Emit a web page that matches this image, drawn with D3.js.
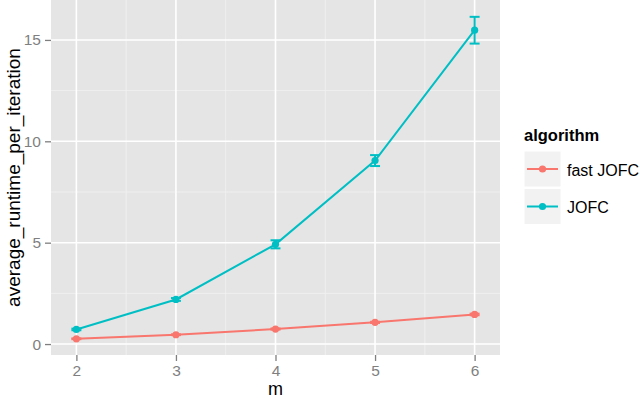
<!DOCTYPE html>
<html>
<head>
<meta charset="utf-8">
<script src="https://cdn.jsdelivr.net/npm/d3@7"></script>
<style>
  body { margin: 0; background: #fff; }
  svg { font-family: "Liberation Sans", Arial, sans-serif; }
</style>
</head>
<body>
<div id="chart"></div>
<script>
// values
var mValues = [2, 3, 4, 5, 6];
var algorithms = ["fast JOFC", "JOFC"];
var colors = ["#F8766D", "#00BFC4"];
var fastJofc = [0.26, 0.46, 0.74, 1.07, 1.46];
var fastJofcErr = [0.02, 0.02, 0.03, 0.03, 0.04];
var jofc = [0.72, 2.2, 4.92, 9.05, 15.48];
var jofcErr = [0.04, 0.07, 0.2, 0.27, 0.66];
var yTicks = [0, 5, 10, 15];
var yMinor = [2.5, 7.5, 12.5];
var xMinor = [2.5, 3.5, 4.5, 5.5];

var series = [
    { name: algorithms[0], color: colors[0], values: fastJofc, err: fastJofcErr },
    { name: algorithms[1], color: colors[1], values: jofc, err: jofcErr }
];

var width = 640, height = 399;
var margin = { top: 0, right: 140, bottom: 44, left: 51 };
var pw = width - margin.left - margin.right,
    ph = height - margin.top - margin.bottom;

var svg = d3.select("#chart").append("svg")
    .attr("width", width)
    .attr("height", height);

var g = svg.append("g")
    .attr("transform", "translate(" + margin.left + "," + margin.top + ")");

var x = d3.scaleLinear().domain([1.745, 6.255]).range([0, pw]);
var y = d3.scaleLinear().domain([-0.54, 16.97]).range([ph, 0]);

// panel
g.append("rect").attr("width", pw).attr("height", ph).attr("fill", "#e5e5e5");

// minor grid
g.selectAll(".ymin").data(yMinor).enter().append("line")
    .attr("x1", 0).attr("x2", pw)
    .attr("y1", d => y(d)).attr("y2", d => y(d))
    .attr("stroke", "#f2f2f2").attr("stroke-width", 0.8);
g.selectAll(".xmin").data(xMinor).enter().append("line")
    .attr("y1", 0).attr("y2", ph)
    .attr("x1", d => x(d)).attr("x2", d => x(d))
    .attr("stroke", "#f2f2f2").attr("stroke-width", 0.8);

// major grid
g.selectAll(".ymaj").data(yTicks).enter().append("line")
    .attr("x1", 0).attr("x2", pw)
    .attr("y1", d => y(d)).attr("y2", d => y(d))
    .attr("stroke", "#fff").attr("stroke-width", 1.6);
g.selectAll(".xmaj").data(mValues).enter().append("line")
    .attr("y1", 0).attr("y2", ph)
    .attr("x1", d => x(d)).attr("x2", d => x(d))
    .attr("stroke", "#fff").attr("stroke-width", 1.6);

// axes
var yAxis = g.append("g")
    .call(d3.axisLeft(y).tickValues(yTicks).tickFormat(d3.format("d")).tickSize(6).tickPadding(4));
var xAxis = g.append("g")
    .attr("transform", "translate(0," + ph + ")")
    .call(d3.axisBottom(x).tickValues(mValues).tickFormat(d3.format("d")).tickSize(6).tickPadding(4));
[xAxis, yAxis].forEach(function(a) {
    a.select(".domain").remove();
    a.selectAll("line").attr("stroke", "#7f7f7f").attr("stroke-width", 1.3);
    a.selectAll("text").attr("fill", "#7f7f7f").style("font-size", "15.5px")
        .style("font-family", "Liberation Sans, Arial, sans-serif");
});

// lines, error bars, points
var line = d3.line()
    .x(function(d, i) { return x(mValues[i]); })
    .y(function(d) { return y(d); });

series.forEach(function(s) {
    g.append("path")
        .datum(s.values)
        .attr("d", line)
        .attr("fill", "none")
        .attr("stroke", s.color)
        .attr("stroke-width", 2);

    var eb = g.append("g").selectAll("g").data(s.values).enter().append("g");
    eb.append("line")
        .attr("x1", (d, i) => x(mValues[i])).attr("x2", (d, i) => x(mValues[i]))
        .attr("y1", (d, i) => y(d - s.err[i])).attr("y2", (d, i) => y(d + s.err[i]))
        .attr("stroke", s.color).attr("stroke-width", 2);
    [-1, 1].forEach(function(sign) {
        eb.append("line")
            .attr("x1", (d, i) => x(mValues[i] - 0.05)).attr("x2", (d, i) => x(mValues[i] + 0.05))
            .attr("y1", (d, i) => y(d + sign * s.err[i])).attr("y2", (d, i) => y(d + sign * s.err[i]))
            .attr("stroke", s.color).attr("stroke-width", 2);
    });

    g.append("g").selectAll("circle").data(s.values).enter().append("circle")
        .attr("cx", (d, i) => x(mValues[i]))
        .attr("cy", d => y(d))
        .attr("r", 3.6)
        .attr("fill", s.color);
});

// axis titles
svg.append("text")
    .attr("x", margin.left + pw / 2)
    .attr("y", 395)
    .attr("text-anchor", "middle")
    .style("font-size", "18px")
    .text("m");

svg.append("text")
    .attr("transform", "translate(20," + (ph / 2) + ") rotate(-90)")
    .attr("text-anchor", "middle")
    .style("font-size", "19px")
    .text("average_runtime_per_iteration");

// legend
var legend = svg.append("g").attr("transform", "translate(524,0)");
legend.append("text")
    .attr("x", 0).attr("y", 141)
    .style("font-size", "16.5px")
    .style("font-weight", "bold")
    .text("algorithm");

var items = legend.selectAll(".item").data(series).enter().append("g")
    .attr("transform", (d, i) => "translate(0," + (151 + i * 37.5) + ")");
items.append("rect")
    .attr("width", 37).attr("height", 36)
    .attr("fill", "#f2f2f2").attr("stroke", "#fff").attr("stroke-width", 1);
items.append("line")
    .attr("x1", 3).attr("x2", 34).attr("y1", 18).attr("y2", 18)
    .attr("stroke", d => d.color).attr("stroke-width", 2);
items.append("circle")
    .attr("cx", 18.5).attr("cy", 18).attr("r", 3.6)
    .attr("fill", d => d.color);
items.append("text")
    .attr("x", 43).attr("y", 24.5)
    .style("font-size", "16px")
    .text(d => d.name);
</script>
</body>
</html>
